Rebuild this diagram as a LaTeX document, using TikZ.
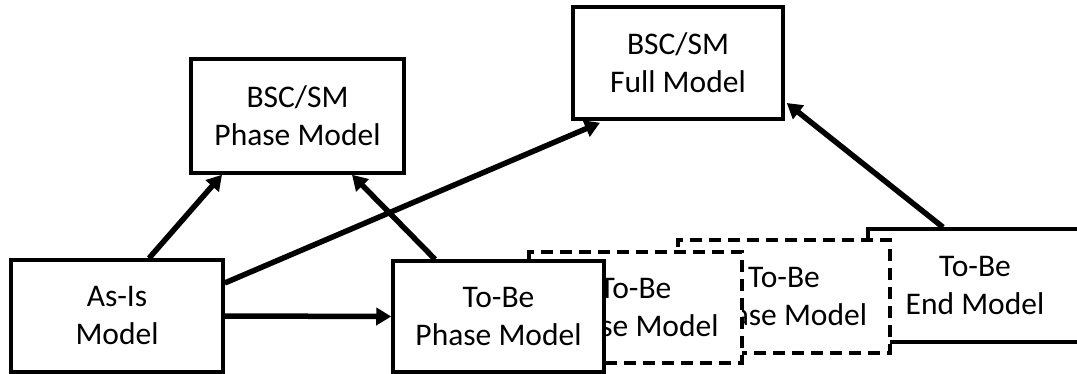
\documentclass[tikz,border=0pt]{standalone}
\usepackage{fontspec}
\setmainfont{Carlito}
\usetikzlibrary{arrows.meta}
\begin{document}
\begin{tikzpicture}[x=1pt,y=-1pt,
  box/.style={draw=black,line width=3.5pt,fill=white,align=center,inner sep=0pt,
    font=\fontsize{31.5}{38}\selectfont},
  dbox/.style={box,dash pattern=on 12pt off 7pt},
  arr/.style={line width=5.5pt,-{Triangle[length=15pt,width=17pt]}}]
\useasboundingbox (0,0) rectangle (1077,374);
\node[box,minimum width=212pt,minimum height=112pt] (asis) at (117,316) {As-Is\\Model};
\node[box,minimum width=213pt,minimum height=114pt] (phase) at (297.5,116) {BSC/SM\\Phase Model};
\node[box,minimum width=210pt,minimum height=112pt] (full) at (678,63) {BSC/SM\\Full Model};
\node[box,minimum width=214pt,minimum height=113pt] (end) at (975,285.5) {To-Be\\End Model};
\node[dbox,minimum width=212pt,minimum height=113pt] (d2) at (784,296.5) {To-Be\\Phase Model};
\node[dbox,minimum width=213pt,minimum height=111pt] (d1) at (635.5,307.5) {To-Be\\Phase Model};
\node[box,minimum width=211pt,minimum height=111pt] (tobe) at (498.5,316.5) {To-Be\\Phase Model};
\draw[arr] (asis.east) -- (tobe.west);
\draw[arr] ([xshift=32pt]asis.north) -- ([xshift=-75.5pt]phase.south);
\draw[arr] ([xshift=-63.5pt]tobe.north) -- ([xshift=54.5pt]phase.south);
\draw[arr] ([yshift=33pt]asis.east) -- ([xshift=-78pt,yshift=-2pt]full.south);
\draw[arr] ([xshift=-32pt]end.north) -- ([xshift=2pt,yshift=-40pt]full.east);
\end{tikzpicture}
\end{document}
